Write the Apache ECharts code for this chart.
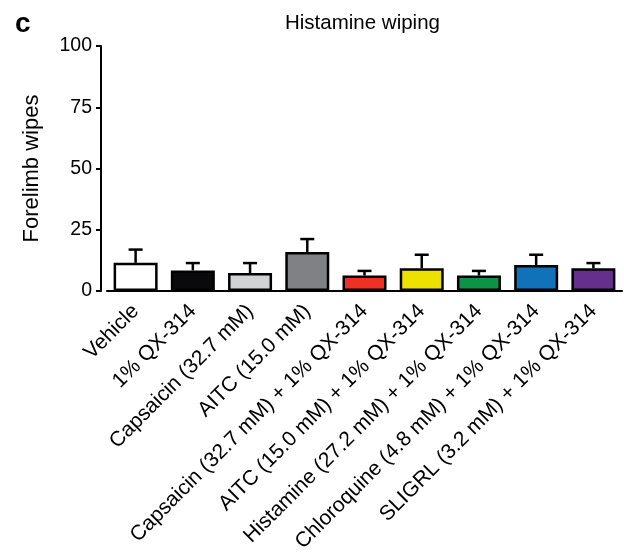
<!DOCTYPE html>
<html>
<head>
<meta charset="utf-8">
<script src="https://cdn.jsdelivr.net/npm/echarts@6/dist/echarts.min.js"></script>
<style>
  html, body { margin: 0; padding: 0; background: #fff; }
  #main { width: 624px; height: 552px; }
</style>
</head>
<body>
<div id="main"></div>
<script>
// groups on the x axis
var categories = [
  "Vehicle",
  "1% QX-314",
  "Capsaicin (32.7 mM)",
  "AITC (15.0 mM)",
  "Capsaicin (32.7 mM) + 1% QX-314",
  "AITC (15.0 mM) + 1% QX-314",
  "Histamine (27.2 mM) + 1% QX-314",
  "Chloroquine (4.8 mM) + 1% QX-314",
  "SLIGRL (3.2 mM) + 1% QX-314"
];
// mean wipes and SEM (upper error only)
var means = [11.5, 8.4, 7.3, 15.9, 6.3, 9.3, 6.3, 10.6, 9.3];
var sems = [5.4, 3.0, 4.1, 5.3, 1.9, 5.5, 1.9, 4.2, 2.1];
var barColors = ["#ffffff", "#0a0a0c", "#d1d2d4", "#808184", "#ee3124",
  "#ede100", "#0d9345", "#1171b9", "#652f8e"];
var yTicks = [0, 25, 50, 75, 100];

var font = "Liberation Sans, Arial, Helvetica, sans-serif";
var chart = echarts.init(document.getElementById("main"));

var option = {
  animation: false,
  textStyle: { fontFamily: font },
  title: [
    {
      text: "c",
      left: 10, top: 5,
      textStyle: { fontSize: 28, fontWeight: "bold", color: "#000", fontFamily: font }
    },
    {
      text: "Histamine wiping",
      left: 280, top: 8,
      textStyle: { fontSize: 20.5, fontWeight: "normal", color: "#000", fontFamily: font }
    }
  ],
  grid: {
    left: 107, right: 2, top: 46, height: 245,
    containLabel: false, outerBoundsMode: "none"
  },
  xAxis: {
    type: "category",
    data: categories,
    axisLine: { lineStyle: { color: "#000", width: 2 } },
    axisTick: { show: false },
    axisLabel: {
      interval: 0,
      rotate: 45,
      margin: 17,
      fontSize: 21,
      color: "#000",
      fontFamily: font
    }
  },
  yAxis: {
    type: "value",
    min: 0, max: 100, interval: 25,
    offset: 6,
    name: "Forelimb wipes",
    nameLocation: "middle",
    nameGap: 58,
    nameTextStyle: { fontSize: 22, color: "#000", fontFamily: font },
    splitLine: { show: false },
    axisLine: { show: true, lineStyle: { color: "#000", width: 2 } },
    axisTick: { show: true, length: 5, lineStyle: { color: "#000", width: 2 } },
    axisLabel: {
      fontSize: 19.5, color: "#000", margin: 9, fontFamily: font,
      formatter: function (v) { return yTicks.indexOf(v) >= 0 ? String(v) : ""; }
    }
  },
  series: [
    {
      type: "bar",
      barWidth: 44,
      data: means.map(function (v, i) {
        return { value: v, itemStyle: { color: barColors[i] } };
      }),
      itemStyle: { borderColor: "#000", borderWidth: 2.5 },
      z: 2
    },
    {
      type: "custom",
      z: 3,
      data: means.map(function (v, i) { return [i, v, v + sems[i]]; }),
      renderItem: function (params, api) {
        var base = api.coord([api.value(0), api.value(1)]);
        var top = api.coord([api.value(0), api.value(2)]);
        var half = 7;
        return {
          type: "group",
          children: [
            {
              type: "line",
              shape: { x1: base[0], y1: base[1], x2: top[0], y2: top[1] },
              style: { stroke: "#000", lineWidth: 2.5 }
            },
            {
              type: "line",
              shape: { x1: top[0] - half, y1: top[1], x2: top[0] + half, y2: top[1] },
              style: { stroke: "#000", lineWidth: 2.5 }
            }
          ]
        };
      }
    }
  ]
};

chart.setOption(option);
</script>
</body>
</html>
